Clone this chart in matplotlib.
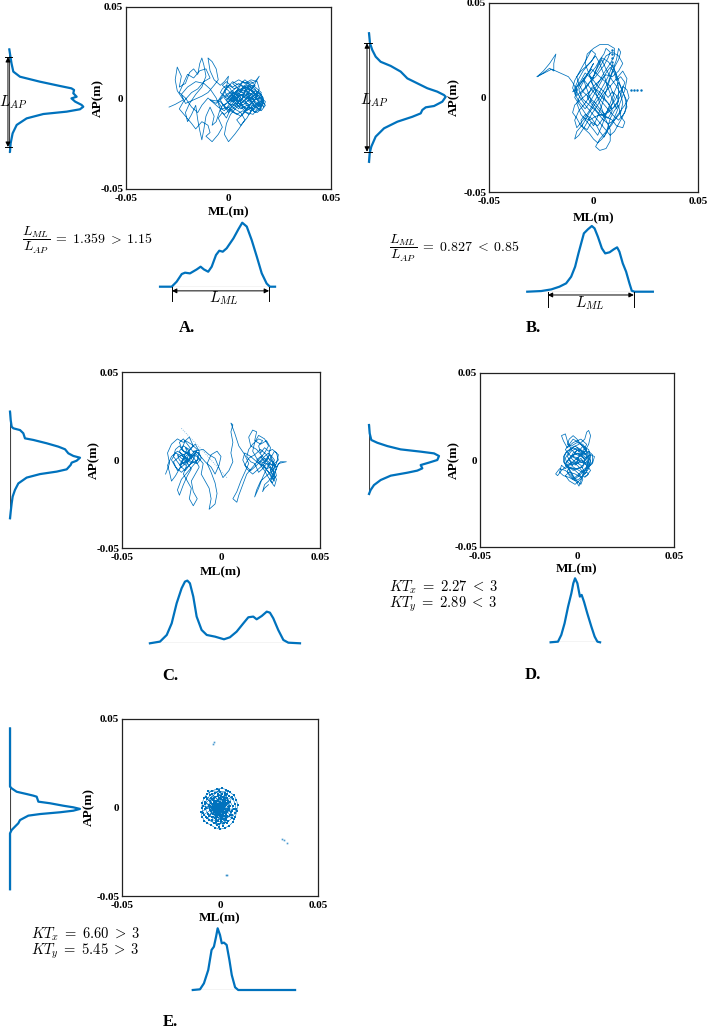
import numpy as np
import matplotlib.pyplot as plt

# Stabilograms (COP trajectories, in mm) with their AP / ML density profiles.
# Five subjects A-E.

BLUE = '#0072BD'
W, H = 709, 1028

# ---------------- trajectories (ML, AP) in mm ----------------
cop_a = [(-29, -5), (-26, -3.5), (-22, -1), (-25, 4), (-26, 10), (-25, 17), (-23, 12), (-24, 6), (-21, 8),
         (-19, 14), (-17, 16), (-15, 13), (-14, 19), (-13, 22), (-12, 18), (-11, 12), (-13, 6), (-16, 2),
         (-19, -3), (-21, -8), (-20, -13), (-18, -9), (-16, -4), (-15, -12), (-14, -18), (-13, -23),
         (-12, -17), (-11, -10), (-9, -5), (-7, -10), (-8, -15), (-6, -13), (-4, -6), (-6, 0), (-9, 5),
         (-12, 8), (-16, 9), (-20, 6), (-23, 2), (-21, -3), (-17, -1), (-13, 1), (-10, 3), (-7, 7), (-5, 10),
         (-6, 16), (-8, 20), (-10, 22), (-9, 15), (-7, 10), (-4, 7), (-2, 9), (0, 12), (-1, 6), (-3, 2),
         (-6, -3), (-9, -1), (-4, -2), (-1, -6), (2, -3), (5, 2), (8, 6), (11, 4), (14, 0), (17, -3),
         (15, -6), (12, -4), (9, -7), (6, -4), (3, 0), (0, 4), (-3, 7), (-1, 9), (2, 6), (5, 8), (8, 5),
         (11, 8), (13, 9), (15, 12), (12, 6), (9, 2), (6, -1), (3, -5), (0, -8), (-2, -4), (1, -1), (4, 3),
         (7, 1), (10, -2), (13, -5), (16, -7), (18, -4), (16, -1), (13, 2), (10, 5), (7, 3), (4, 6), (1, 3),
         (-2, 0), (0, -3), (3, -6), (6, -8), (8, -12), (5, -17), (3, -20), (0, -24), (-2, -20), (-1, -14),
         (1, -9), (4, -5), (7, -2), (10, 1), (13, 4), (16, 2), (17, -1), (14, -3), (11, -6), (8, -3), (5, 0),
         (2, 4), (-1, 2), (-4, -1), (-2, -5), (1, -7), (4, -9), (7, -7), (10, -9), (12, -6), (9, -4), (6, -6),
         (3, -2), (0, 1), (3, 3), (6, 5), (9, 7), (12, 5), (15, 3), (17, 0), (15, -4), (12, -2), (9, 0), (6, 2),
         (3, -1), (0, -2), (2, 1), (5, 4), (8, 2), (11, -1), (14, 1), (12, 4), (9, 6), (6, 7), (3, 5), (0, 7),
         (-2, 4), (0, 0), (3, -3), (6, -5), (9, -8), (12, -9), (14, -6), (15, -2), (13, 1), (10, 3), (7, 0),
         (4, -3), (1, -4), (-1, -1), (2, 2), (5, 5), (8, 4), (11, 2), (14, -1), (16, -5), (13, -8), (10, -5),
         (7, -9), (4, -12), (6, -15), (9, -11), (11, -7), (14, -4), (17, -2), (15, 1), (12, 3), (10, 8), (8, 10),
         (5, 7), (2, 9), (-1, 5), (-3, 1), (-5, -2), (-3, -6), (0, -5), (3, -8), (6, -10), (8, -7), (11, -3),
         (13, -1), (15, 5), (14, 9), (11, 10), (8, 8), (5, 10), (2, 8), (4, 6), (6, 4), (7, 6), (9, 4),
         (10, 1), (12, -1), (13, -3), (15, -5), (16, -3), (17, -5), (18, -2), (16, 0), (14, 2), (13, 5),
         (11, 7), (9, 8), (7, 9), (6, 7), (4, 4), (3, 1), (1, -1), (-1, -3), (-3, -4), (-4, -7), (-2, -9),
         (0, -7), (1, -5), (3, -4), (5, -6), (6, -3), (8, -1), (9, -3), (11, -4), (12, -7), (14, -8), (16, -6),
         (15, -3), (13, -2), (12, 0), (10, 2), (8, 3), (6, 1), (5, -2), (4, 0), (2, 2), (1, 5), (-1, 7),
         (-3, 5), (-4, 3), (-2, 1), (0, -1), (2, -2), (4, -1), (5, 1), (7, 2), (9, 1), (11, 0), (13, -1),
         (15, 0), (16, 3), (14, 5), (12, 7), (10, 6), (8, 4), (7, 1), (6, -2), (7, -5), (9, -6), (10, -4),
         (8, -2), (6, 0), (4, 2), (2, 3), (1, 1), (3, -1), (5, -3), (8, -5), (11, -7), (13, -6), (12, -3),
         (10, -1), (9, 3), (11, 5), (13, 7), (11, 9), (8, 7), (5, 3), (3, 0), (0, -4), (-2, -7), (-5, -5),
         (-7, -3), (-10, 0), (-13, -4), (-15, -8), (-18, -5), (-21, 0), (-24, 3), (-22, 8), (-20, 13),
         (-17, 11), (-14, 15), (-11, 16), (-9, 11), (-12, 9), (-15, 5), (-18, 3), (-22, -2), (-24, -6),
         (-21, -10), (-18, -14), (-16, -17), (-13, -13), (-10, -15), (-9, -19), (-11, -21), (-8, -24),
         (-5, -20), (-3, -16), (-5, -11), (-3, -8), (-1, -11), (1, -6), (3, -3), (5, -1), (7, -4), (9, -2),
         (12, 1), (14, 3), (16, 1), (17, -2), (15, -7), (13, -4), (11, -2), (9, 0)]

cop_b = [(-27, 11), (-24, 14), (-21, 18), (-18, 23), (-19, 18), (-19, 14), (-21, 15.5), (-24, 13), (-27, 11),
         (-20, 15), (-16, 13), (-12, 11), (-10, 8), (-8, 4), (-10, 3), (-6, 8), (-2, 14), (0, 18), (-3, 12),
         (-7, 6), (-9, 0), (-6, -5), (-3, -10), (0, -15), (2, -10), (4, -4), (6, 3), (8, 10), (10, 16),
         (12, 20), (13, 24), (12, 26), (11, 20), (9, 14), (7, 8), (4, 2), (1, -3), (-2, -8), (-5, -14),
         (-8, -18), (-9, -22), (-7, -20), (-4, -15), (-1, -9), (2, -4), (5, 2), (8, 6), (11, 10), (14, 14),
         (16, 10), (15, 4), (13, -2), (11, -8), (9, -13), (6, -18), (3, -22), (1, -26), (3, -28), (6, -27),
         (8, -23), (8, -17), (6, -12), (4, -6), (2, 0), (0, 6), (-2, 12), (-4, 18), (-3, 23), (0, 26), (3, 28),
         (7, 28), (10, 26), (10, 22), (8, 18), (5, 13), (2, 7), (-1, 2), (-4, -3), (-7, -7), (-9, -12),
         (-8, -16), (-5, -12), (-2, -7), (1, -1), (4, 5), (7, 11), (9, 17), (11, 12), (13, 6), (15, 0),
         (16, -5), (14, -10), (12, -14), (10, -18), (8, -20), (5, -16), (2, -12), (-1, -8), (-4, -4), (-7, 1),
         (-9, 5), (-7, 10), (-5, 14), (-2, 18), (1, 22), (3, 18), (5, 12), (7, 5), (9, -1), (11, -6), (12, -1),
         (12, 5), (11, 11), (10, 15), (7, 19), (4, 21), (2, 17), (0, 11), (-3, 6), (-6, 2), (-8, -3), (-6, -9),
         (-3, -13), (0, -17), (2, -20), (4, -15), (6, -9), (8, -3), (10, 3), (12, 8), (14, 3), (16, -2),
         (15, -8), (12, -12), (9, -9), (6, -5), (3, -1), (0, 3), (-3, 7), (-5, 10), (-3, 4), (-1, -2), (2, -6),
         (5, -10), (8, -6), (10, 0), (8, 6), (5, 9), (2, 12), (-1, 15), (-4, 10), (-7, 4), (-5, -1), (-2, -4),
         (1, -7), (4, -11), (7, -14), (10, -12), (13, -8), (14, -3), (13, 2), (11, 6), (9, 9), (6, 15), (4, 20),
         (1, 14), (-1, 8), (1, 4), (4, 0), (7, -3), (9, -7), (7, -11), (3, -9), (0, -5), (-3, 0), (-1, 5),
         (3, 9), (6, 12), (9, 11), (12, 14), (14, 18), (12, 22), (9, 24), (6, 22), (4, 18), (2, 14), (-1, 10),
         (-4, 13), (-6, 9), (-8, 6), (-9, 2), (-7, -2), (-4, -6), (-2, -3), (0, 1), (2, 5), (4, 9), (6, 13),
         (8, 16), (10, 13), (11, 9), (13, 11), (15, 8), (14, 5), (12, 2), (10, -2), (8, -5), (6, -8), (4, -12),
         (2, -15), (-1, -13), (-3, -17), (-6, -15), (-8, -11), (-10, -8), (-9, -4), (-6, -1), (-3, 2), (0, 5),
         (3, 3), (5, 0), (7, -3), (9, -6), (11, -3), (13, 1), (14, 6), (16, 4), (17, 0), (15, -4), (13, -7),
         (11, -10), (9, -14), (7, -17), (5, -21), (3, -18), (1, -14), (-1, -11), (-4, -9), (-6, -12), (-5, -16),
         (-2, -19), (0, -22), (2, -24), (4, -22), (6, -19), (7, -15), (8, -11), (10, -7), (12, -4), (13, -10),
         (15, -13), (14, -16), (11, -15), (9, -12), (6, -10), (3, -6), (1, -3), (-2, 0), (-5, 3), (-7, 7),
         (-8, 11), (-6, 14), (-4, 16), (-1, 19), (1, 23), (-1, 25), (-3, 21), (-5, 17), (-7, 13), (-9, 9),
         (-10, 5), (-8, 1), (-5, 4), (-2, 8), (1, 11), (3, 14), (5, 17), (7, 21), (8, 24), (6, 26), (5, 23),
         (3, 20), (1, 16), (-2, 12), (0, 9), (2, 6), (5, 3), (7, 0), (9, 3), (11, 1), (12, -2), (10, -5),
         (7, -8), (4, -9), (1, -10), (-2, -12), (-4, -11)]
dots_b = [(9, 25), (9, 23), (9, 21), (9, 19), (9, 17), (18, 4), (19.5, 4), (21, 4), (22.5, 4)]

cop_c = [(-28, -8), (-26, -2), (-27, 4), (-25, 9), (-22, 12), (-19, 10), (-16, 13), (-14, 8), (-17, 4),
         (-21, 2), (-24, -1), (-22, -6), (-19, -3), (-16, 1), (-13, 4), (-11, 1), (-14, -3), (-17, -7),
         (-20, -11), (-22, -17), (-21, -20), (-19, -14), (-17, -9), (-15, -5), (-18, 0), (-21, 5), (-19, 8),
         (-16, 6), (-13, 9), (-11, 5), (-12, 0), (-15, -2), (-19, 2), (-23, 4), (-25, 0), (-23, -4), (-20, -7),
         (-17, -4), (-14, -1), (-16, 3), (-20, 6), (-18, 11), (-15, 9), (-12, 6), (-14, 2), (-18, -1),
         (-21, -3), (-19, 1), (-16, 4), (-13, 0), (-11, -4), (-13, -8), (-15, -12), (-14, -18), (-12, -22),
         (-14, -26), (-16, -22), (-15, -16), (-17, -12), (-19, -8), (-17, -2), (-15, 3), (-12, 2), (-9, -2),
         (-10, -8), (-8, -12), (-6, -16), (-5, -22), (-6, -28), (-3, -25), (-2, -19), (-3, -13), (-5, -7),
         (-7, -2), (-5, 3), (-2, 5), (0, 2), (-1, -3), (-3, -8), (-5, -4), (-8, -1), (-11, 3), (-13, 5),
         (-16, 2), (-18, 7), (-16, 5), (-17, 1), (-19, -2), (-21, 0), (-22, 3), (-20, 1), (-17, -1), (-15, 1),
         (-16, 4), (-19, 5), (-21, 8), (-23, 6), (-24, 2), (-22, -1), (-20, -4), (-18, -6), (-16, -3),
         (-14, 0), (-13, 3), (-15, 6), (-17, 9), (-19, 12), (-21, 10), (-20, 7), (-18, 4), (-19, 0), (-21, -5),
         (-23, -9), (-25, -12), (-26, -7), (-27, -3), (-25, 2), (-22, 5), (-19, 3), (-17, 0), (-18, -3),
         (-20, -1), (-18, 2), (-15, -1), (-12, -2), (-10, 1), (-11, 4), (-14, 5), (-9, 6), (-6, 3), (-3, 1),
         (1, -10), (4, -6), (6, -1), (5, 4), (6, 10), (5, 16), (6, 20), (5, 21), (7, 15), (9, 8), (12, 3),
         (14, -2), (12, -7), (10, -12), (8, -18), (6, -22), (8, -24), (9, -20), (11, -14), (13, -8), (16, -4),
         (19, 0), (22, 4), (24, 8), (22, 12), (19, 14), (17, 10), (16, 5), (18, 1), (21, -3), (24, -7),
         (26, -11), (28, -9), (27, -4), (25, 1), (27, 5), (29, 3), (28, -2), (26, -6), (23, -9), (20, -12),
         (18, -17), (17, -21), (19, -16), (21, -10), (23, -5), (25, -1), (23, 3), (20, 6), (17, 3), (14, 1),
         (12, -3), (15, -6), (18, -3), (21, 1), (24, 4), (26, 0), (28, -4), (30, -1), (33, -1), (29, -2),
         (27, -8), (25, -12), (27, -15), (28, -11), (26, -6), (24, -2), (21, 2), (18, 6), (15, 8), (14, 13),
         (16, 17), (18, 16), (17, 11), (20, 9), (23, 11), (25, 7), (24, 2), (22, -2), (19, -5), (16, -8),
         (13, -5), (11, 0), (12, 4), (15, 2), (18, -1), (22, -4), (25, -8), (27, -12), (26, -3), (20, -1),
         (22, 1), (24, -1), (26, -3), (27, 0), (25, 3), (23, 1), (21, -2), (23, -5), (25, -4), (27, -7),
         (28, -5), (26, -1), (24, 1), (22, -1), (20, 2), (18, 0), (20, -3), (22, -6), (24, -10), (26, -13),
         (27, -10), (25, -6), (27, -2), (29, 0), (28, 4), (26, 6), (24, 5), (22, 7), (20, 4), (19, 8), (21, 11),
         (19, 12), (16, 9), (14, 6), (13, 2), (15, -1), (17, -2), (19, -7), (21, -5), (23, -2), (25, -5),
         (26, -9), (24, -12), (22, -14), (21, -18), (22, -16), (24, -14)]
faint_c = [(-20, 18), (-9, 5), (3, -10)]

cop_d = [(0, 0), (3, 5), (5, 9), (2, 12), (-2, 10), (-5, 7), (-7, 11), (-8, 14), (-6, 15), (-5, 11), (-3, 6),
         (0, 3), (4, 1), (7, 3), (9, 2), (8, -2), (5, -5), (2, -8), (-1, -11), (-3, -8), (-5, -4), (-7, -1),
         (-6, 4), (-3, 7), (1, 9), (4, 12), (5, 16), (6, 17), (7, 14), (6, 9), (4, 5), (1, 2), (-2, -1),
         (-5, -3), (-8, -6), (-10, -9), (-11, -8), (-9, -5), (-6, -6), (-3, -9), (0, -13), (1, -15), (2, -12),
         (3, -8), (5, -4), (6, 0), (4, 4), (1, 6), (-2, 4), (-4, 0), (-2, -4), (1, -6), (4, -8), (6, -5),
         (7, -1), (5, 3), (2, 6), (-1, 8), (-4, 5), (-6, 1), (-5, -3), (-2, -6), (2, -4), (5, -1), (3, 2),
         (0, 4), (-3, 2), (-5, -1), (-3, -3), (0, -2), (3, -1), (6, 2), (4, 7), (1, 10), (-2, 12), (-4, 9),
         (-6, 6), (-4, 3), (-1, 1), (2, -1), (5, -3), (7, -6), (5, -9), (2, -10), (-1, -8), (-4, -7), (-6, -9),
         (-4, -12), (-1, -14), (2, -11), (4, -7), (2, -3), (-1, -1), (-3, 1), (-1, 4), (2, 3), (4, 0), (3, -4),
         (0, -5), (-3, -5), (-6, -3), (-7, 2), (-5, 5), (-2, 7), (1, 5), (3, 8), (6, 6), (7, 2), (5, -2),
         (2, 0), (-1, -3), (1, 1), (-2, 2), (0, 6), (3, 3), (5, 6), (3, 9), (0, 10), (-3, 8), (-5, 9), (-4, 12),
         (-2, 14), (0, 12), (2, 9), (4, 6), (6, 4), (7, 0), (6, -3), (4, -5), (2, -7), (0, -9), (-2, -11),
         (-4, -9), (-5, -6), (-3, -4), (-1, -6), (1, -8), (3, -11), (2, -14), (0, -12), (-2, -9), (-4, -5),
         (-6, -2), (-4, 1), (-2, 3), (1, 4), (4, 2), (6, -1), (5, -6), (3, -7), (1, -4), (-1, -2), (-3, -1),
         (-5, 2), (-3, 5), (0, 7), (2, 5), (4, 3), (6, 5), (8, 3), (8, -1), (6, -4), (4, -2), (2, 1), (0, -1),
         (-2, -2), (-4, -3), (-6, -5), (-8, -3), (-9, -7), (-7, -9), (-4, -10), (-1, -12), (1, -11), (3, -9),
         (5, -7), (6, -8), (4, -10)]

cop_e = [(-0.5, 0.3), (1.2, 2.1), (2.8, 0.6), (1.5, -1.8), (-0.7, -2.6), (-2.4, -0.9), (-3.1, 1.7), (-1.8, 3.4),
         (0.4, 4.6), (2.2, 3.9), (3.9, 2.4), (4.6, -0.3), (3.3, -2.9), (1.1, -4.2), (-1.3, -4.8), (-3.6, -3.7),
         (-5.2, -1.4), (-5.8, 1.2), (-4.9, 3.8), (-3.2, 5.6), (-1.0, 6.7), (1.3, 6.2), (3.5, 5.1), (5.3, 3.0),
         (6.4, 0.8), (6.1, -1.9), (5.0, -4.3), (3.0, -6.1), (0.6, -6.9), (-1.9, -6.6), (-4.1, -5.5), (-6.2, -3.6),
         (-7.4, -1.0), (-7.7, 1.9), (-6.8, 4.6), (-5.0, 6.9), (-2.6, 8.4), (0.1, 8.9), (2.6, 8.0), (4.7, 6.6),
         (6.6, 4.7), (7.7, 2.2), (8.1, -0.6), (7.5, -3.3), (6.2, -5.8), (4.3, -7.8), (1.9, -9.0), (-0.7, -9.4),
         (-3.2, -8.6), (-5.4, -7.3), (-7.2, -5.4), (-8.6, -2.9), (-9.3, -0.1), (-9.0, 2.7), (-8.2, 5.3),
         (-6.6, 7.6), (-4.3, 9.3), (-1.7, 10.4), (0.9, 10.9), (3.2, 10.1), (5.1, 8.6), (7.1, 6.9), (8.4, 4.3),
         (9.0, 1.4), (8.6, -2.1), (7.8, -5.1), (6.6, -8.2), (4.8, -10.2), (2.5, -11.6), (-0.1, -12.3),
         (-2.6, -11.3), (-4.7, -9.9), (-6.5, -8.9), (-8.0, -7.4), (-9.1, -5.2), (-9.7, -2.6), (-2.1, 2.2),
         (0.8, 1.4), (2.0, -2.5), (-1.4, -1.1), (-3.8, 0.4), (-0.2, -3.5), (1.9, 4.8), (-2.7, -5.8), (3.8, -4.6),
         (-4.4, 2.6), (0.3, -0.8), (-1.1, 4.1), (2.7, -0.9), (-3.0, -2.4), (1.4, -6.3), (-5.6, -4.7), (4.2, 3.4),
         (-0.9, 7.8), (5.6, -2.4), (-6.9, -0.2), (2.3, 6.9), (-2.2, -8.1), (0.0, 2.6), (-4.0, -6.9), (3.6, -8.8),
         (-7.9, 3.2), (6.9, -6.6), (-3.9, 7.6), (1.7, -10.6), (5.9, 5.9), (-8.4, -4.1), (-0.4, -10.9), (4.0, 9.1),
         (-6.0, 9.3), (-1.6, 0.9), (0.5, -1.9), (-2.9, 3.1), (1.6, 0.1), (-0.3, 5.5), (-4.6, -2.1), (3.1, 1.8),
         (-1.8, -3.2), (2.4, -4.9), (-3.4, -1.2), (0.9, -5.6), (-5.3, 0.9), (4.5, -1.6), (-2.5, 6.1), (1.0, 7.4),
         (-6.4, -6.1), (3.4, 7.5), (-1.2, -7.6), (5.2, 1.1), (-7.0, 5.8), (2.9, -7.3), (-0.8, 1.9), (-3.7, 4.4),
         (0.2, -4.6), (1.8, 3.0), (-2.0, -4.4), (3.7, -2.0), (-4.8, 5.1), (-1.3, -10.0), (6.0, -4.0),
         (-0.6, 9.8), (-8.8, 0.8), (7.2, -1.1)]
outliers_e = [(-3.5, 36), (-3.2, 36.8), (31.7, -18), (32.5, -18.5), (34, -20), (3, -38), (3.6, -38.3)]

# ---------------- density profiles: position (mm), relative density ----------------
ap_pos_a = [26.7, 19.0, 14.5, 11.7, 9.0, 6.6, 5.3, 4.4, 2.6, 0.7, -0.2, -2.0, -3.8, -4.8, -6.2, -7.5, -8.8,
            -11.2, -14.8, -19.4, -24.9, -29.5]
ap_den_a = [0, 0.03, 0.054, 0.144, 0.41, 0.685, 0.84, 0.875, 0.865, 0.91, 0.84, 0.89, 0.977, 1.0, 0.955,
            0.775, 0.46, 0.234, 0.1, 0.045, 0.018, 0.009]
ml_pos_a = [-33.4, -27.7, -25.3, -22.8, -21.2, -18.8, -15.5, -13.6, -12.0, -9.9, -8.2, -6.1, -4.5, -2.8, -0.9,
            2.4, 4.8, 6.7, 8.9, 11.3, 13.8, 16.2, 18.6, 20.2, 22.7]
ml_den_a = [0, 0, 0.078, 0.198, 0.219, 0.208, 0.27, 0.3125, 0.27, 0.234, 0.3125, 0.495, 0.5625, 0.547, 0.6,
            0.755, 0.896, 1.0, 0.94, 0.73, 0.47, 0.21, 0.05, 0, 0]

ap_pos_b = [34.0, 28.7, 25.1, 21.6, 18.9, 16.7, 13.7, 10.1, 7.5, 4.9, 3.1, 1.3, 0.4, -2.2, -4.5, -5.2, -6.6,
            -8.4, -10.2, -12.8, -16.3, -20.7, -26.0, -29.5, -34.0]
ap_den_b = [0, 0.013, 0.043, 0.087, 0.152, 0.283, 0.413, 0.5, 0.63, 0.76, 0.89, 0.978, 1.0, 0.956, 0.848,
            0.74, 0.695, 0.674, 0.565, 0.37, 0.196, 0.087, 0.03, 0.009, 0]
ml_pos_b = [-31.7, -25.0, -20.2, -16.3, -13.1, -10.7, -8.8, -7.2, -5.9, -4.6, -2.7, -0.8, 0.5, 2.1, 4.0, 5.6,
            7.7, 9.7, 11.3, 12.4, 14.0, 15.6, 17.2, 18.3, 19.6, 28.4]
ml_den_b = [0, 0.01, 0.035, 0.076, 0.127, 0.228, 0.38, 0.583, 0.736, 0.888, 0.949, 1.0, 0.964, 0.837, 0.66,
            0.583, 0.6, 0.645, 0.675, 0.609, 0.431, 0.305, 0.127, 0.015, 0, 0]

ap_pos_c = [27.5, 22.7, 18.9, 18.0, 17.0, 15.2, 12.3, 11.4, 9.5, 7.6, 6.1, 3.8, 2.3, 1.3, -0.4, -1.5, -2.8,
            -5.3, -6.6, -8.0, -10.0, -13.3, -17.0, -20.8, -24.6, -29.4, -33.1]
ap_den_c = [0, 0.01, 0.024, 0.048, 0.143, 0.19, 0.214, 0.333, 0.524, 0.69, 0.786, 0.833, 0.905, 1.0, 0.952,
            0.881, 0.867, 0.81, 0.667, 0.429, 0.238, 0.119, 0.071, 0.038, 0.024, 0.01, 0]
ml_pos_c = [-35.9, -30.8, -27.4, -24.9, -22.4, -19.9, -18.2, -17.0, -15.7, -14.0, -12.3, -9.8, -7.2, -3.0, 1.5,
            4.5, 7.9, 11.3, 13.8, 16.3, 18.0, 20.6, 23.1, 24.7, 26.4, 28.9, 31.5, 34.0, 39.9]
ml_den_c = [0, 0.027, 0.133, 0.319, 0.638, 0.877, 0.984, 1.0, 0.957, 0.745, 0.426, 0.213, 0.133, 0.106, 0.064,
            0.096, 0.186, 0.319, 0.415, 0.426, 0.383, 0.436, 0.505, 0.489, 0.399, 0.213, 0.053, 0.01, 0]

ap_pos_d = [20.1, 15.3, 11.5, 9.9, 8.0, 6.1, 4.8, 3.8, 2.3, 0.0, -1.5, -2.9, -4.8, -6.1, -7.3, -9.0, -11.5,
            -14.4, -17.2, -19.5]
ap_den_d = [0, 0.01, 0.033, 0.119, 0.262, 0.452, 0.738, 0.929, 1.0, 0.976, 0.857, 0.738, 0.762, 0.69, 0.548,
            0.31, 0.167, 0.071, 0.024, 0]
ml_pos_d = [-13.6, -9.8, -8.1, -6.4, -4.6, -2.9, -1.9, -1.0, 0.2, 1.5, 2.4, 3.6, 5.3, 7.4, 9.1, 10.5, 11.9]
ml_den_d = [0, 0.01, 0.115, 0.297, 0.557, 0.766, 0.922, 1.0, 0.922, 0.714, 0.74, 0.635, 0.453, 0.245, 0.089,
            0.01, 0]

ap_pos_e = [44.7, 11.8, 10.8, 8.9, 7.6, 6.7, 6.1, 3.3, 2.4, 1.0, 0.1, -0.8, -1.8, -2.7, -3.7, -4.6, -6.1, -7.1,
            -8.9, -10.8, -12.7, -14.6, -46.2]
ap_den_e = [0, 0, 0.024, 0.095, 0.238, 0.333, 0.381, 0.405, 0.571, 0.762, 0.905, 1.0, 0.905, 0.714, 0.429,
            0.262, 0.19, 0.143, 0.119, 0.071, 0.024, 0, 0]
ml_pos_e = [-13.9, -10.2, -8.2, -6.0, -4.3, -3.1, -2.0, -1.2, 0.0, 0.9, 2.0, 3.4, 4.8, 6.0, 7.7, 9.3, 38.3]
ml_den_e = [0, 0.011, 0.108, 0.324, 0.649, 0.703, 0.865, 1.0, 0.892, 0.757, 0.768, 0.73, 0.486, 0.243, 0.044,
            0, 0]

ticks = [-0.05, 0, 0.05]
tick_labels = ['-0.05', '0', '0.05']

plt.rcParams['mathtext.fontset'] = 'cm'
SERIF = 'Liberation Serif'

fig = plt.figure(figsize=(W / 100, H / 100), dpi=100)


def px_axes(x0, y0, x1, y1):
    return fig.add_axes([x0 / W, 1 - y1 / H, (x1 - x0) / W, (y1 - y0) / H])


def px_text(x, y, s, **kw):
    fig.text(x / W, 1 - y / H, s, **kw)


def stabilogram(box, cop, xlab_y, ylab_x, lw=0.55):
    ax = px_axes(*box)
    xy = np.array(cop) / 1000
    ax.plot(xy[:, 0], xy[:, 1], color=BLUE, lw=lw)
    ax.set_xlim(-0.05, 0.05)
    ax.set_ylim(-0.05, 0.05)
    ax.set_xticks(ticks)
    ax.set_yticks(ticks)
    ax.set_xticklabels(tick_labels)
    ax.set_yticklabels(tick_labels)
    ax.tick_params(length=0, labelsize=8)
    ax.tick_params(axis='x', pad=3.5)
    ax.tick_params(axis='y', pad=2)
    for lab in ax.get_xticklabels() + ax.get_yticklabels():
        lab.set_fontfamily(SERIF)
        lab.set_fontweight('bold')
    for s in ax.spines.values():
        s.set_linewidth(0.9)
        s.set_color('#222222')
    x0, y0, x1, y1 = box
    px_text((x0 + x1) / 2, xlab_y + 1, 'ML(m)', ha='center', va='center', fontsize=9.5,
            family=SERIF, weight='bold')
    px_text(ylab_x, (y0 + y1) / 2, 'AP(m)', ha='center', va='center', rotation=90,
            fontsize=9.5, family=SERIF, weight='bold')
    return ax


def vertical_profile(box, pos, den):
    # box: baseline x, top, peak x, bottom (same vertical span as the stabilogram)
    ax = px_axes(*box)
    p = np.array(pos) / 1000
    ax.plot([0, 0], [p[0], p[-1]], color='#444444', lw=0.8)
    ax.plot(den, p, color=BLUE, lw=1.6, clip_on=False)
    ax.set_xlim(0, 1)
    ax.set_ylim(-0.05, 0.05)
    ax.axis('off')
    return ax


def horizontal_profile(box, pos, den):
    ax = px_axes(*box)
    p = np.array(pos) / 1000
    ax.plot([p[0], p[-1]], [0, 0], color='#444444', lw=0.8)
    ax.plot(p, den, color=BLUE, lw=1.6, clip_on=False)
    ax.set_xlim(-0.05, 0.05)
    ax.set_ylim(0, 1)
    ax.axis('off')
    return ax


def span_arrow(ax, a, b, at, bar, vertical):
    kw = dict(arrowstyle='<|-|>', mutation_scale=7, color='black', lw=0.7, shrinkA=0, shrinkB=0)
    if vertical:
        ax.annotate('', xy=(at, a), xytext=(at, b), arrowprops=kw, annotation_clip=False)
        for v in (a, b):
            ax.plot(bar, [v, v], color='black', lw=0.7, clip_on=False)
    else:
        ax.annotate('', xy=(a, at), xytext=(b, at), arrowprops=kw, annotation_clip=False)
        for v in (a, b):
            ax.plot([v, v], bar, color='black', lw=0.7, clip_on=False)


# ---------------- A ----------------
stabilogram((126, 7, 331, 189), cop_a, 211, 98)
va = vertical_profile((9.3, 7, 83.3, 189), ap_pos_a, ap_den_a)
span_arrow(va, 0.0225, -0.0269, -0.018, [-0.06, 0.04], True)
ha = horizontal_profile((126, 222.7, 331, 286.7), ml_pos_a, ml_den_a)
span_arrow(ha, -0.0276, 0.0198, -0.065, [0, -0.22], False)
px_text(13, 102, '$L_{AP}$', ha='center', va='center', fontsize=11)
px_text(224, 298, '$L_{ML}$', ha='center', va='center', fontsize=11)
px_text(22, 240, r'$\dfrac{L_{ML}}{L_{AP}} \;=\; 1.359 \;>\; 1.15$', ha='left', va='center', fontsize=10)
px_text(187, 328, 'A.', ha='center', va='center', fontsize=12, family=SERIF, weight='bold')

# ---------------- B ----------------
axb = stabilogram((489, 3, 698, 192), cop_b, 217, 454)
db = np.array(dots_b) / 1000
axb.plot(db[:, 0], db[:, 1], ls='none', marker='.', ms=1.5, color=BLUE)
vb = vertical_profile((369, 3, 445.7, 192), ap_pos_b, ap_den_b)
span_arrow(vb, 0.0287, -0.0287, -0.026, [-0.065, 0.04], True)
hb = horizontal_profile((489, 226, 698, 291.7), ml_pos_b, ml_den_b)
span_arrow(hb, -0.0219, 0.0193, -0.05, [0, -0.23], False)
px_text(374, 100, '$L_{AP}$', ha='center', va='center', fontsize=11)
px_text(590, 303, '$L_{ML}$', ha='center', va='center', fontsize=11)
px_text(389, 248, r'$\dfrac{L_{ML}}{L_{AP}} \;=\; 0.827 \;<\; 0.85$', ha='left', va='center', fontsize=10)
px_text(533, 328, 'B.', ha='center', va='center', fontsize=12, family=SERIF, weight='bold')

# ---------------- C ----------------
axc = stabilogram((122, 372, 320, 548), cop_c, 571, 94)
fc = np.array(faint_c) / 1000
axc.plot(fc[:, 0], fc[:, 1], color=BLUE, lw=0.6, ls=':', alpha=0.6)
vertical_profile((10, 372, 80, 548), ap_pos_c, ap_den_c)
horizontal_profile((122, 580.6, 320, 643.3), ml_pos_c, ml_den_c)
px_text(170, 676, 'C.', ha='center', va='center', fontsize=12, family=SERIF, weight='bold')

# ---------------- D ----------------
stabilogram((480, 373, 674, 547), cop_d, 568, 454)
vertical_profile((369, 373, 439, 547), ap_pos_d, ap_den_d)
horizontal_profile((480, 578.3, 674, 642.3), ml_pos_d, ml_den_d)
px_text(389, 587, r'$KT_x \;=\; 2.27 \;<\; 3$', ha='left', va='center', fontsize=10.5)
px_text(389, 604, r'$KT_y \;=\; 2.89 \;<\; 3$', ha='left', va='center', fontsize=10.5)
px_text(533, 675, 'D.', ha='center', va='center', fontsize=12, family=SERIF, weight='bold')

# ---------------- E ----------------
axe = stabilogram((122, 719, 318, 896), cop_e, 917, 89, lw=0.4)
pe = np.array(cop_e) / 1000
axe.plot(pe[:, 0], pe[:, 1], ls='none', marker='s', ms=1.6, mew=0, color=BLUE)
oe = np.array(outliers_e) / 1000
axe.plot(oe[:, 0], oe[:, 1], ls='none', marker='s', ms=1.2, mew=0, color=BLUE, alpha=0.7)
vertical_profile((10, 719, 80, 896), ap_pos_e, ap_den_e)
horizontal_profile((122, 928.3, 318, 990), ml_pos_e, ml_den_e)
px_text(31, 934, r'$KT_x \;=\; 6.60 \;>\; 3$', ha='left', va='center', fontsize=10.5)
px_text(31, 951, r'$KT_y \;=\; 5.45 \;>\; 3$', ha='left', va='center', fontsize=10.5)
px_text(170, 1022, 'E.', ha='center', va='center', fontsize=12, family=SERIF, weight='bold')

fig.savefig('out.png', dpi=100)
